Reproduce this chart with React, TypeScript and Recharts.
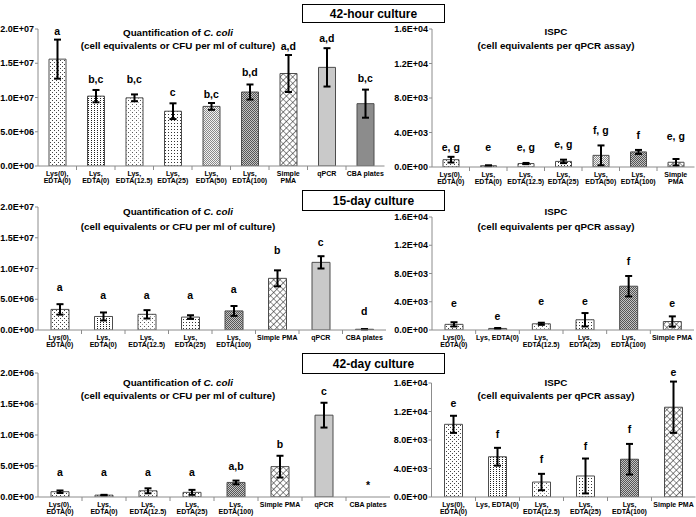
import React from 'react';
import { ComposedChart, Bar, Line, XAxis, YAxis, ErrorBar, Cell, LabelList } from 'recharts';

const FONT = "'Liberation Sans', Arial, Helvetica, sans-serif";
const AXIS = '#8c8c8c';

// ---------- 42-hour culture ----------
const cat42hQ = ['Lys(0),\nEDTA(0)', 'Lys,\nEDTA(0)', 'Lys,\nEDTA(12.5)', 'Lys,\nEDTA(25)', 'Lys,\nEDTA(50)', 'Lys,\nEDTA(100)', 'Simple\nPMA', 'qPCR', 'CBA plates'];
const val42hQ = [15.6e6, 10.2e6, 9.95e6, 8.0e6, 8.7e6, 10.8e6, 13.5e6, 14.4e6, 9.1e6];
const err42hQ = [2.85e6, 0.9e6, 0.5e6, 1.15e6, 0.5e6, 1.1e6, 2.7e6, 2.8e6, 2.05e6];
const let42hQ = ['a', 'b,c', 'b,c', 'c', 'b,c', 'b,d', 'a,d', 'a,d', 'b,c'];
const letAt42hQ = [19.7e6, 12.6e6, 12.6e6, 10.7e6, 10.5e6, 13.6e6, 17.5e6, 18.7e6, 12.8e6];

const cat42hI = ['Lys(0),\nEDTA(0)', 'Lys,\nEDTA(0)', 'Lys,\nEDTA(12.5)', 'Lys,\nEDTA(25)', 'Lys,\nEDTA(50)', 'Lys,\nEDTA(100)', 'Simple\nPMA'];
const val42hI = [850, 150, 400, 650, 1350, 1750, 550];
const err42hI = [330, 50, 70, 200, 1150, 230, 380];
const let42hI = ['e, g', 'e', 'e, g', 'e, g', 'f, g', 'f', 'e, g'];
const letAt42hI = [2280, 2280, 2280, 2600, 4300, 3720, 3520];

// ---------- 15-day culture ----------
const cat15dQ = ['Lys(0),\nEDTA(0)', 'Lys,\nEDTA(0)', 'Lys,\nEDTA(12.5)', 'Lys,\nEDTA(25)', 'Lys,\nEDTA(100)', 'Simple PMA', 'qPCR', 'CBA plates'];
const val15dQ = [3.35e6, 2.2e6, 2.55e6, 2.1e6, 3.1e6, 8.4e6, 11.0e6, 0.12e6];
const err15dQ = [0.85e6, 0.65e6, 0.68e6, 0.3e6, 0.8e6, 1.3e6, 1.0e6, 0.02e6];
const let15dQ = ['a', 'a', 'a', 'a', 'a', 'b', 'c', 'd'];
const letAt15dQ = [6.88e6, 5.69e6, 5.69e6, 5.69e6, 6.67e6, 12.9e6, 14.2e6, 3.09e6];

const cat15dI = ['Lys(0),\nEDTA(0)', 'Lys, EDTA(0)', 'Lys,\nEDTA(12.5)', 'Lys,\nEDTA(25)', 'Lys,\nEDTA(100)', 'Simple PMA'];
const val15dI = [800, 220, 880, 1450, 6200, 1200];
const err15dI = [300, 60, 150, 950, 1450, 730];
const let15dI = ['e', 'e', 'e', 'e', 'f', 'e'];
const letAt15dI = [3780, 1980, 4000, 4100, 9770, 3780];

// ---------- 42-day culture ----------
const cat42dQ = ['Lys(0),\nEDTA(0)', 'Lys,\nEDTA(0)', 'Lys,\nEDTA(12.5)', 'Lys,\nEDTA(25)', 'Lys,\nEDTA(100)', 'Simple PMA', 'qPCR', 'CBA plates'];
const val42dQ = [0.085e6, 0.03e6, 0.1e6, 0.075e6, 0.235e6, 0.49e6, 1.32e6, null];
const err42dQ = [0.02e6, 0.005e6, 0.04e6, 0.04e6, 0.03e6, 0.175e6, 0.2e6, null];
const let42dQ = ['a', 'a', 'a', 'a', 'a,b', 'b', 'c', '*'];
const letAt42dQ = [0.4e6, 0.4e6, 0.4e6, 0.4e6, 0.5e6, 0.855e6, 1.7e6, 0.18e6];

const cat42dI = ['Lys(0),\nEDTA(0)', 'Lys, EDTA(0)', 'Lys,\nEDTA(12.5)', 'Lys,\nEDTA(25)', 'Lys,\nEDTA(100)', 'Simple PMA'];
const val42dI = [10200, 5650, 2100, 2950, 5300, 12600];
const err42dI = [1200, 1250, 1150, 2450, 2150, 3600];
const let42dI = ['e', 'f', 'f', 'f', 'f', 'e'];
const letAt42dI = [13150, 8840, 5290, 7070, 9500, 17500];

// ---------- axis ticks ----------
const ticksQ20M = [0, 5e6, 1e7, 1.5e7, 2e7];
const ticksQ2M = [0, 5e5, 1e6, 1.5e6, 2e6];
const ticksISPC = [0, 4e3, 8e3, 1.2e4, 1.6e4];

function sci(v: number): string {
  if (v === 0) return '0.0E+00';
  const e = Math.floor(Math.log10(v) + 1e-9);
  const m = v / Math.pow(10, e);
  return m.toFixed(1) + 'E' + (e < 0 ? '-' : '+') + String(Math.abs(e)).padStart(2, '0');
}

function fillFor(name: string): string {
  if (name.startsWith('Lys(0)')) return 'url(#p-lys0)';
  if (name.includes('EDTA(0)')) return 'url(#p-edta0)';
  if (name.includes('12.5')) return 'url(#p-e12)';
  if (name.includes('(25)')) return 'url(#p-e25)';
  if (name.includes('(50)')) return 'url(#p-e50)';
  if (name.includes('(100)')) return 'url(#p-e100)';
  if (name.includes('PMA')) return 'url(#p-pma)';
  if (name.includes('qPCR')) return '#c9c9c9';
  return '#8c8c8c';
}

function Patterns() {
  return (
    <svg width={0} height={0} style={{ position: 'absolute', left: 0, top: 0 }}>
      <defs>
        <pattern id="p-lys0" patternUnits="userSpaceOnUse" width={4} height={4}>
          <rect width={4} height={4} fill="#fff" />
          <rect x={0} y={0} width={1} height={1} fill="#444" />
          <rect x={2} y={2} width={1} height={1} fill="#444" />
        </pattern>
        <pattern id="p-edta0" patternUnits="userSpaceOnUse" width={3} height={2}>
          <rect width={3} height={2} fill="#fff" />
          <rect x={1} y={0} width={1} height={1} fill="#222" />
        </pattern>
        <pattern id="p-e12" patternUnits="userSpaceOnUse" width={4} height={4}>
          <rect width={4} height={4} fill="#fff" />
          <rect x={0} y={0} width={1} height={1} fill="#555" />
          <rect x={2} y={2} width={1} height={1} fill="#999" />
        </pattern>
        <pattern id="p-e25" patternUnits="userSpaceOnUse" width={3} height={3}>
          <rect width={3} height={3} fill="#fff" />
          <rect x={0} y={0} width={1} height={1} fill="#333" />
        </pattern>
        <pattern id="p-e50" patternUnits="userSpaceOnUse" width={2} height={2}>
          <rect width={2} height={2} fill="#f2f2f2" />
          <rect x={0} y={0} width={1} height={1} fill="#8a8a8a" />
          <rect x={1} y={1} width={1} height={1} fill="#8a8a8a" />
        </pattern>
        <pattern id="p-e100" patternUnits="userSpaceOnUse" width={2} height={2}>
          <rect width={2} height={2} fill="#c4c4c4" />
          <rect x={0} y={0} width={1} height={1} fill="#555" />
          <rect x={1} y={1} width={1} height={1} fill="#555" />
        </pattern>
        <pattern id="p-pma" patternUnits="userSpaceOnUse" width={4.5} height={4.5} patternTransform="rotate(45)">
          <rect width={4.5} height={4.5} fill="#fff" />
          <path d="M0 0 H4.5 M0 0 V4.5" stroke="#222" strokeWidth={1.1} />
        </pattern>
      </defs>
    </svg>
  );
}

function CatTick(props: any) {
  const { x, y, payload, half, index, count } = props;
  const lines = String(payload.value).split('\n');
  return (
    <g>
      {index < count - 1 && <line x1={x + half} x2={x + half} y1={y} y2={y + 4} stroke={AXIS} strokeWidth={1} />}
      {lines.map((l: string, i: number) => (
        <text key={i} x={x} y={y + 9.5 + i * 7} textAnchor="middle" fontSize={7} fontWeight={700} fill="#000" fontFamily={FONT}>
          {l}
        </text>
      ))}
    </g>
  );
}

function LetterLabel(props: any) {
  const vb = props.viewBox || {};
  const x = props.x ?? vb.x;
  const y = props.y ?? vb.y;
  if (x == null || y == null || props.value == null) return null;
  return (
    <text x={x} y={y + 3.6} textAnchor="middle" fontSize={10.5} fontWeight={700} fill="#000" fontFamily={FONT}>
      {props.value}
    </text>
  );
}

type PanelProps = {
  left: number; top: number; width: number; height: number;
  mTop: number; mRight: number; yWidth: number; xHeight: number;
  cats: string[]; vals: (number | null)[]; errs: (number | null)[];
  letters: string[]; letterAt: number[]; ticks: number[]; barSize: number;
};

function Panel(p: PanelProps) {
  const data = p.cats.map((name, i) => ({ name, value: p.vals[i], err: p.errs[i], letter: p.letters[i], at: p.letterAt[i] }));
  const plotW = p.width - p.mRight - p.yWidth;
  const half = plotW / p.cats.length / 2;
  const count = p.cats.length;
  return (
    <div style={{ position: 'absolute', left: p.left, top: p.top }}>
      <ComposedChart width={p.width} height={p.height} data={data} margin={{ top: p.mTop, right: p.mRight, left: 0, bottom: 0 }} barCategoryGap={0}>
        <XAxis
          dataKey="name" type="category" interval={0} tickLine={false} tickSize={0} tickMargin={0}
          height={p.xHeight} axisLine={{ stroke: AXIS, strokeWidth: 1 }}
          tick={(tp: any) => <CatTick {...tp} half={half} count={count} />}
        />
        <YAxis
          type="number" domain={[0, p.ticks[p.ticks.length - 1]]} ticks={p.ticks} allowDataOverflow interval={0}
          width={p.yWidth} tickFormatter={sci} tickSize={3} tickMargin={1}
          tick={{ fontSize: 9, fontWeight: 700, fill: '#000', fontFamily: FONT }}
          axisLine={{ stroke: AXIS }} tickLine={{ stroke: AXIS }}
        />
        <Bar dataKey="value" barSize={p.barSize} stroke="#4d4d4d" strokeWidth={1} isAnimationActive={false}>
          {data.map((d, i) => <Cell key={i} fill={fillFor(d.name)} />)}
          <ErrorBar dataKey="err" width={3.5} strokeWidth={2} stroke="#000" direction="y" />
        </Bar>
        <Line dataKey="at" stroke="none" dot={false} activeDot={false} isAnimationActive={false} legendType="none">
          <LabelList dataKey="letter" content={LetterLabel} />
        </Line>
      </ComposedChart>
    </div>
  );
}

function TitleLine({ cx, cy, children }: { cx: number; cy: number; children: React.ReactNode }) {
  return (
    <div style={{ position: 'absolute', left: cx - 150, width: 300, top: cy - 7, height: 14, lineHeight: '14px', textAlign: 'center', fontSize: 9.8, fontWeight: 700, fontFamily: FONT, whiteSpace: 'nowrap', color: '#000' }}>
      {children}
    </div>
  );
}

function Box({ top, height, text }: { top: number; height: number; text: string }) {
  return (
    <div style={{ position: 'absolute', left: 302, top, width: 143, height, border: '1.5px solid #000', boxSizing: 'border-box', background: '#fff', display: 'flex', alignItems: 'center', justifyContent: 'center', fontSize: 12, fontWeight: 700, fontFamily: FONT, color: '#000' }}>
      {text}
    </div>
  );
}

const qTitle1 = <>Quantification of <i>C. coli</i></>;
const qTitle2 = '(cell equivalents or CFU per ml of culture)';
const iTitle1 = 'ISPC';
const iTitle2 = '(cell equivalents per qPCR assay)';

export default function App() {
  return (
    <div style={{ position: 'absolute', left: 0, top: 0, width: 696, height: 517, background: '#fff', overflow: 'hidden', fontFamily: FONT }}>
      <Patterns />
      <Panel left={0} top={0} width={390} height={190} mTop={29} mRight={5.5} yWidth={38} xHeight={24}
        cats={cat42hQ} vals={val42hQ} errs={err42hQ} letters={let42hQ} letterAt={letAt42hQ} ticks={ticksQ20M} barSize={17} />
      <Panel left={390} top={0} width={306} height={190} mTop={29} mRight={1.5} yWidth={42} xHeight={23}
        cats={cat42hI} vals={val42hI} errs={err42hI} letters={let42hI} letterAt={letAt42hI} ticks={ticksISPC} barSize={16} />
      <Panel left={0} top={190} width={390} height={165} mTop={17} mRight={4} yWidth={38} xHeight={25}
        cats={cat15dQ} vals={val15dQ} errs={err15dQ} letters={let15dQ} letterAt={letAt15dQ} ticks={ticksQ20M} barSize={18} />
      <Panel left={390} top={190} width={306} height={165} mTop={27} mRight={2} yWidth={42} xHeight={25}
        cats={cat15dI} vals={val15dI} errs={err15dI} letters={let15dI} letterAt={letAt15dI} ticks={ticksISPC} barSize={18} />
      <Panel left={0} top={355} width={392} height={162} mTop={18} mRight={2} yWidth={38} xHeight={20}
        cats={cat42dQ} vals={val42dQ} errs={err42dQ} letters={let42dQ} letterAt={letAt42dQ} ticks={ticksQ2M} barSize={18} />
      <Panel left={390} top={355} width={306} height={162} mTop={28} mRight={0.5} yWidth={41.5} xHeight={20}
        cats={cat42dI} vals={val42dI} errs={err42dI} letters={let42dI} letterAt={letAt42dI} ticks={ticksISPC} barSize={18} />

      <TitleLine cx={178} cy={33}>{qTitle1}</TitleLine>
      <TitleLine cx={178} cy={45.5}>{qTitle2}</TitleLine>
      <TitleLine cx={556} cy={31.7}>{iTitle1}</TitleLine>
      <TitleLine cx={556} cy={45.7}>{iTitle2}</TitleLine>

      <TitleLine cx={178} cy={212.3}>{qTitle1}</TitleLine>
      <TitleLine cx={178} cy={227}>{qTitle2}</TitleLine>
      <TitleLine cx={556} cy={212.3}>{iTitle1}</TitleLine>
      <TitleLine cx={556} cy={227.3}>{iTitle2}</TitleLine>

      <TitleLine cx={178} cy={382.7}>{qTitle1}</TitleLine>
      <TitleLine cx={178} cy={396}>{qTitle2}</TitleLine>
      <TitleLine cx={556} cy={382.7}>{iTitle1}</TitleLine>
      <TitleLine cx={556} cy={396}>{iTitle2}</TitleLine>

      <Box top={4} height={19} text="42-hour culture" />
      <Box top={190} height={21} text="15-day culture" />
      <Box top={353} height={21} text="42-day culture" />
    </div>
  );
}
